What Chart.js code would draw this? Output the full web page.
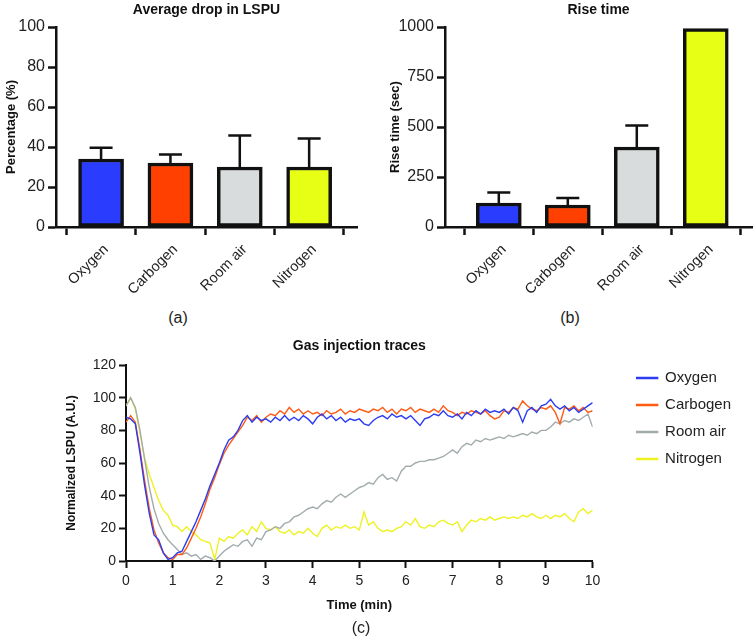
<!DOCTYPE html>
<html>
<head>
<meta charset="utf-8">
<script src="https://cdn.jsdelivr.net/npm/chart.js@4.4.1/dist/chart.umd.min.js"></script>
<style>
  body { margin: 0; background: #fff; }
  #wrap { position: relative; width: 754px; height: 640px; overflow: hidden; font-family: "Liberation Sans", Arial, sans-serif; }
  canvas { position: absolute; }
  .cap { position: absolute; font-size: 16px; color: #222; transform: translate(-50%, -50%); }
</style>
</head>
<body>
<div id="wrap">
  <canvas id="dropChart" style="left:0;top:0;width:375px;height:300px" width="375" height="300"></canvas>
  <canvas id="riseChart" style="left:380px;top:0;width:374px;height:300px" width="374" height="300"></canvas>
  <canvas id="traceChart" style="left:0;top:330px;width:754px;height:310px" width="754" height="310"></canvas>
  <div class="cap" style="left:178px;top:318px">(a)</div>
  <div class="cap" style="left:570px;top:318px">(b)</div>
  <div class="cap" style="left:361px;top:628px">(c)</div>
</div>
<script>
// datos de las barras
const categories = ['Oxygen', 'Carbogen', 'Room air', 'Nitrogen'];
const dropMean = [34, 32, 30, 30];
const dropSd = [5.6, 4.3, 15.7, 14.2];
const riseMean = [120, 110, 400, 992];
const riseSd = [52, 35, 107, 0];
const dropTicks = [0, 20, 40, 60, 80, 100];
const riseTicks = [0, 250, 500, 750, 1000];

// trazas (una muestra cada 0.1 min, de 0 a 10)
const oxygen = [88, 87, 84, 66, 46, 29, 16, 13, 5, 1,
  2, 5, 6, 12, 18, 24, 31, 38, 46, 53,
  60, 68, 74, 76, 80, 86, 89, 85, 88, 86,
  87, 85, 88, 86, 89, 86, 88, 86, 89, 87,
  84, 88, 90, 87, 89, 86, 88, 85, 87, 86,
  87, 84, 83, 86, 88, 89, 87, 90, 88, 89,
  87, 89, 86, 83, 87, 88, 90, 89, 92, 89,
  88, 90, 87, 91, 89, 92, 90, 93, 91, 92,
  91, 93, 90, 94, 92, 85, 92, 94, 91, 95,
  96, 99, 95, 93, 95, 92, 94, 91, 93, 95,
  97];
const carbogen = [85, 89, 85, 68, 49, 32, 19, 11, 5, 2,
  1, 4, 4, 8, 14, 20, 27, 35, 44, 51,
  59, 66, 71, 75, 79, 83, 88, 86, 89, 85,
  88, 90, 89, 92, 90, 94, 91, 93, 90, 92,
  90, 91, 89, 92, 90, 91, 93, 90, 92, 91,
  93, 92, 91, 93, 92, 94, 91, 93, 90, 93,
  92, 94, 91, 93, 92, 91, 93, 91, 95, 92,
  91, 89, 91, 90, 92, 91, 90, 92, 89, 87,
  88, 92, 91, 94, 93, 98, 95, 93, 92, 94,
  93, 95, 91, 84, 94, 93, 95, 92, 94, 91,
  92];
const roomAir = [95, 100, 94, 80, 62, 45, 32, 23, 17, 13,
  10, 7, 4, 5, 3, 4, 1, 3, 2, 0,
  3, 6, 8, 10, 9, 12, 13, 9, 14, 13,
  18, 19, 21, 20, 23, 24, 27, 28, 30, 32,
  33, 32, 35, 37, 36, 39, 41, 39, 41, 43,
  45, 46, 48, 47, 51, 53, 50, 51, 49, 55,
  58, 58, 60, 61, 61, 62, 62, 63, 64, 66,
  68, 66, 70, 72, 71, 74, 73, 75, 74, 75,
  76, 75, 77, 76, 77, 78, 77, 79, 78, 80,
  80, 82, 85, 84, 86, 85, 87, 86, 88, 90,
  82];
const nitrogen = [95, 100, 93, 78, 63, 53, 45, 37, 31, 28,
  22, 21, 18, 21, 18, 16, 13, 12, 11, 1,
  14, 12, 15, 14, 17, 19, 16, 21, 18, 24,
  20, 19, 21, 18, 17, 19, 16, 18, 17, 20,
  17, 15, 20, 22, 19, 21, 20, 22, 20, 21,
  19, 30, 22, 24, 20, 18, 19, 18, 20, 21,
  24, 22, 26, 21, 20, 22, 21, 24, 25, 23,
  22, 24, 18, 22, 25, 24, 26, 25, 27, 25,
  26, 27, 26, 27, 26, 28, 27, 29, 27, 26,
  28, 26, 28, 27, 29, 26, 24, 30, 32, 29,
  31];
const timeTicks = [0, 1, 2, 3, 4, 5, 6, 7, 8, 9, 10];
const traceTicks = [0, 20, 40, 60, 80, 100, 120];
const times = oxygen.map((_, i) => i / 10);

Chart.defaults.font.family = '"Liberation Sans", Arial, sans-serif';
Chart.defaults.color = '#222';
Chart.defaults.animation = false;

const barColors = ['#2a3dff', '#ff4000', '#d9dcdc', '#e6ff14'];

// barras de error dibujadas con las escalas del grafico
const errorBars = {
    id: 'errorBars',
    afterDatasetsDraw(chart, args, opts) {
        const {ctx} = chart;
        const xs = chart.scales.x, ys = chart.scales.y;
        ctx.save();
        ctx.strokeStyle = '#111';
        ctx.lineWidth = 2.5;
        opts.means.forEach((m, i) => {
            if (!opts.sd[i]) return;
            const x = xs.getPixelForValue(i);
            const y0 = ys.getPixelForValue(m);
            const y1 = ys.getPixelForValue(m + opts.sd[i]);
            ctx.beginPath();
            ctx.moveTo(x, y0);
            ctx.lineTo(x, y1);
            ctx.moveTo(x - 11.5, y1);
            ctx.lineTo(x + 11.5, y1);
            ctx.stroke();
        });
        ctx.restore();
    }
};

function barChart(id, title, yTitle, means, sd, yTicks, xRange, yAxisW, yTitlePad, padRight) {
    return new Chart(document.getElementById(id), {
        type: 'bar',
        data: {
            datasets: [{
                data: means.map((v, i) => ({x: i, y: v})),
                backgroundColor: barColors,
                borderColor: '#111',
                borderWidth: 3.5,
                borderSkipped: false,
                barThickness: 45
            }]
        },
        plugins: [errorBars],
        options: {
            responsive: false,
            layout: { padding: { left: 0, right: padRight, top: 0, bottom: 0 } },
            plugins: {
                legend: { display: false },
                tooltip: { enabled: false },
                title: {
                    display: true, text: title, fullSize: false,
                    font: { size: 14, weight: 'bold' }, color: '#111',
                    padding: { top: 2, bottom: 8.2 }
                },
                errorBars: { means: means, sd: sd }
            },
            scales: {
                x: {
                    type: 'linear', offset: false,
                    min: xRange[0], max: xRange[1],
                    afterBuildTicks: s => { s.ticks = categories.map((_, i) => ({value: i})); },
                    afterFit: s => { s.height = 73; },
                    ticks: {
                        callback: v => categories[v],
                        minRotation: 45, maxRotation: 45,
                        font: { size: 14.5 }, padding: 6, labelOffset: 5
                    },
                    grid: { drawOnChartArea: false, tickLength: 8, tickColor: '#111', tickWidth: 2.5 },
                    border: { color: '#111', width: 2.5 }
                },
                y: {
                    min: yTicks[0], max: yTicks[yTicks.length - 1],
                    afterBuildTicks: s => { s.ticks = yTicks.map(v => ({value: v})); },
                    afterFit: s => { s.width = yAxisW; },
                    ticks: { font: { size: 16 }, padding: 3, callback: v => String(v) },
                    grid: { drawOnChartArea: false, tickLength: 8, tickColor: '#111', tickWidth: 2.5 },
                    border: { color: '#111', width: 2.5 },
                    title: {
                        display: true, text: yTitle, color: '#111',
                        font: { size: 13, weight: 'bold' },
                        padding: { top: yTitlePad, bottom: 0 }
                    }
                }
            }
        }
    });
}

barChart('dropChart', 'Average drop in LSPU', 'Percentage (%)', dropMean, dropSd, dropTicks, [-0.65, 3.69], 56, 3.2, 18);
barChart('riseChart', 'Rise time', 'Rise time (sec)', riseMean, riseSd, riseTicks, [-0.78, 3.67], 65, 7.2, 2);

const traceSeries = [
    { label: 'Oxygen', values: oxygen, color: '#2b3cf2' },
    { label: 'Carbogen', values: carbogen, color: '#ff5a14' },
    { label: 'Room air', values: roomAir, color: '#a3acad' },
    { label: 'Nitrogen', values: nitrogen, color: '#eef222' }
];

new Chart(document.getElementById('traceChart'), {
    type: 'line',
    data: {
        datasets: traceSeries.map(s => ({
            label: s.label,
            data: s.values.map((v, i) => ({x: times[i], y: v})),
            borderColor: s.color,
            backgroundColor: s.color,
            borderWidth: 1.4,
            pointRadius: 0,
            tension: 0
        }))
    },
    options: {
        responsive: false,
        layout: { padding: { left: 0, right: 13, top: 0, bottom: 19 } },
        plugins: {
            tooltip: { enabled: false },
            title: {
                display: true, text: 'Gas injection traces', fullSize: false,
                font: { size: 14, weight: 'bold' }, color: '#111',
                padding: { top: 7.6, bottom: 10.6 }
            },
            legend: {
                position: 'right', align: 'start',
                title: { display: true, text: '', font: { size: 10 }, padding: { top: 16.5, bottom: 0 } },
                labels: { boxWidth: 21, boxHeight: 1, padding: 12, font: { size: 15 }, color: '#222' }
            }
        },
        scales: {
            x: {
                type: 'linear', min: 0, max: 10,
                afterBuildTicks: s => { s.ticks = timeTicks.map(v => ({value: v})); },
                afterFit: s => { s.height = 60; },
                ticks: { font: { size: 14 }, padding: 5, maxRotation: 0 },
                grid: { drawOnChartArea: false, tickLength: 7, tickColor: '#111', tickWidth: 2 },
                border: { color: '#111', width: 2 },
                title: {
                    display: true, text: 'Time (min)', color: '#111',
                    font: { size: 13, weight: 'bold' },
                    padding: { top: 0, bottom: 8.2 }
                }
            },
            y: {
                min: 0, max: 120,
                afterBuildTicks: s => { s.ticks = traceTicks.map(v => ({value: v})); },
                afterFit: s => { s.width = 126; },
                ticks: { font: { size: 14 }, padding: 3 },
                grid: { drawOnChartArea: false, tickLength: 7, tickColor: '#111', tickWidth: 2 },
                border: { color: '#111', width: 2 },
                title: {
                    display: true, text: 'Normalized LSPU (A.U.)', color: '#111',
                    font: { size: 12, weight: 'bold' },
                    padding: { top: 64.8, bottom: 0 }
                }
            },
            gap: {
                type: 'linear', position: 'right', display: true,
                afterFit: s => { s.width = 32; },
                ticks: { display: false },
                grid: { display: false, drawTicks: false },
                border: { display: false }
            }
        }
    }
});
</script>
</body>
</html>
